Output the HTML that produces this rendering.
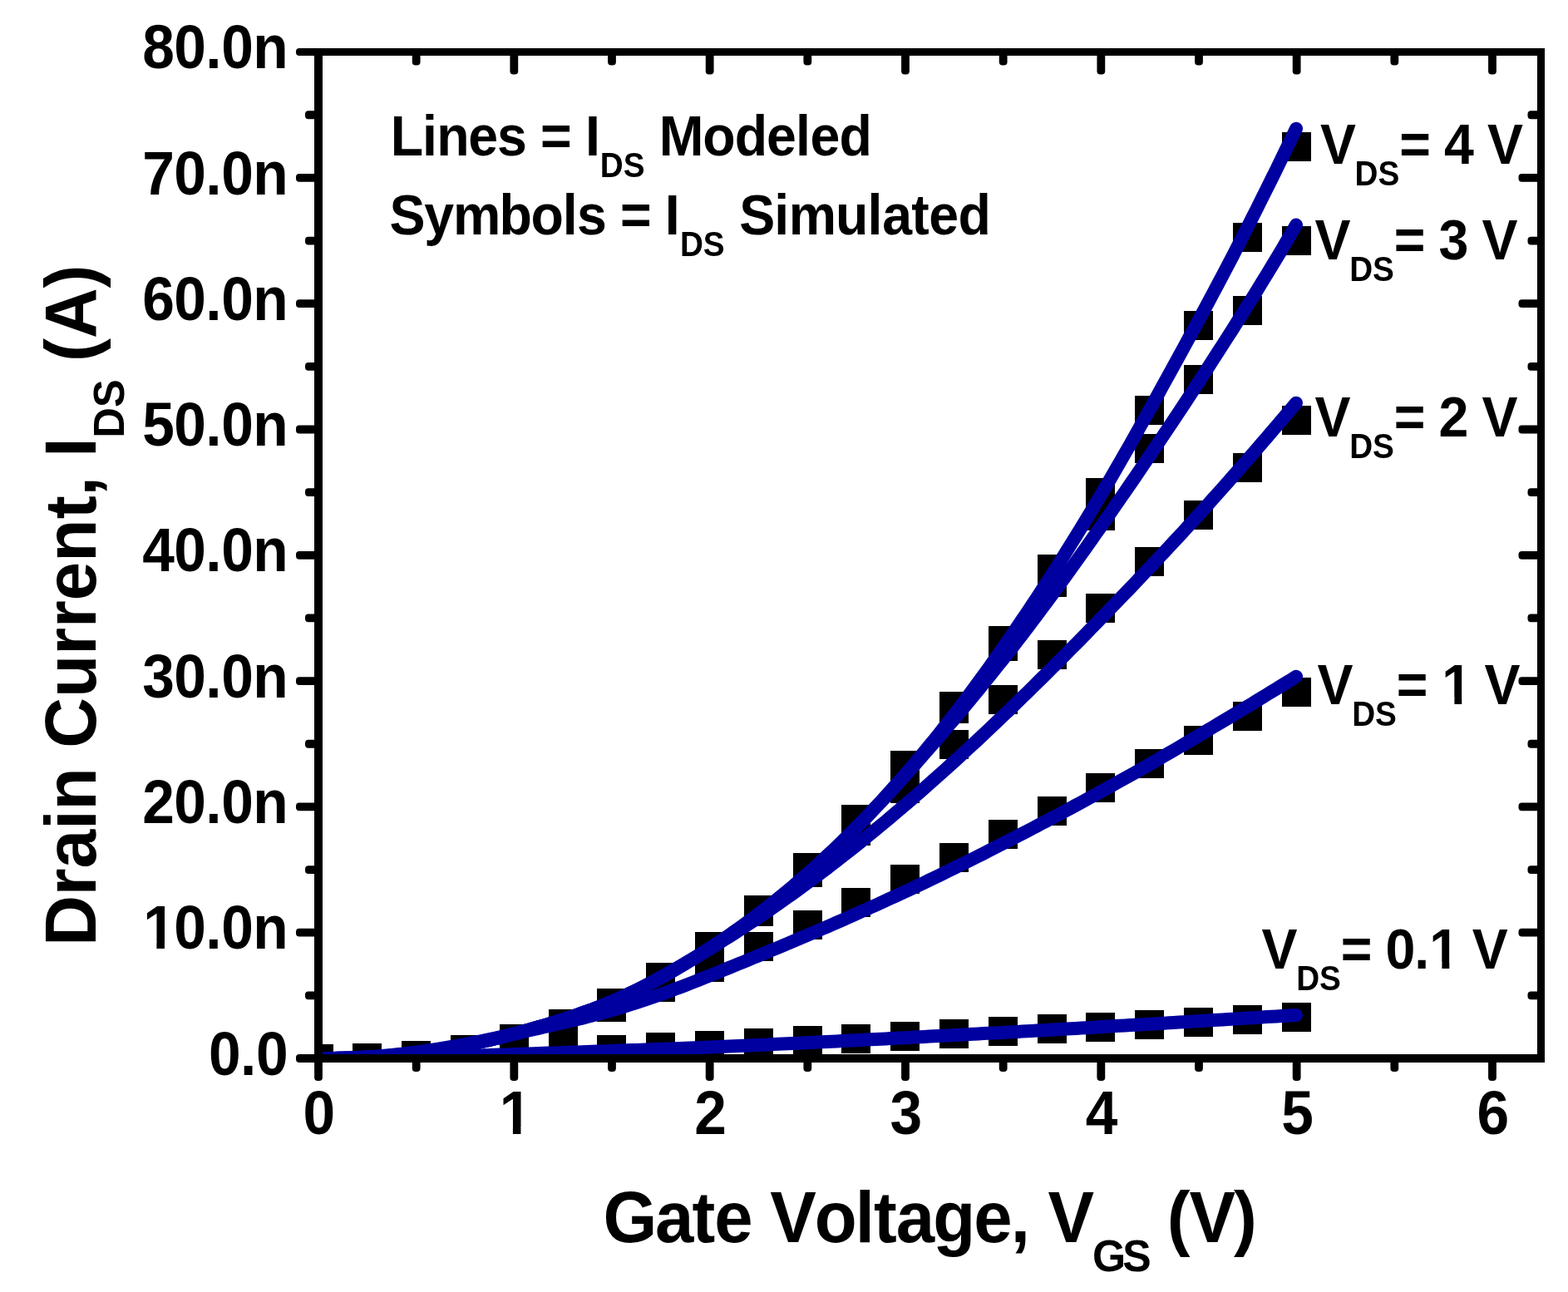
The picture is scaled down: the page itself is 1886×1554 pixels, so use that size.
<!DOCTYPE html>
<html lang="en"><head><meta charset="utf-8"><title>Drain Current vs Gate Voltage</title>
<style>html,body{margin:0;padding:0;background:#fff;}body{width:1886px;height:1554px;overflow:hidden;}svg{display:block;}text{font-family:"Liberation Sans",sans-serif;font-weight:bold;fill:#000;font-kerning:none;}</style></head><body>
<svg width="1886" height="1554" viewBox="0 0 1886 1554">
<rect x="0" y="0" width="1886" height="1554" fill="#fff"/>
<defs><clipPath id="plot"><rect x="383.0" y="62.5" width="1470.5" height="1210.5"/></clipPath></defs>
<g clip-path="url(#plot)">
<g fill="#000" shape-rendering="crispEdges">
<rect x="366" y="1256" width="35" height="35"/>
<rect x="424" y="1255" width="35" height="35"/>
<rect x="483" y="1254" width="35" height="35"/>
<rect x="542" y="1253" width="35" height="35"/>
<rect x="601" y="1251" width="35" height="35"/>
<rect x="660" y="1248" width="35" height="35"/>
<rect x="718" y="1245" width="35" height="35"/>
<rect x="777" y="1242" width="35" height="35"/>
<rect x="836" y="1240" width="35" height="35"/>
<rect x="895" y="1237" width="35" height="35"/>
<rect x="954" y="1234" width="35" height="35"/>
<rect x="1012" y="1232" width="35" height="35"/>
<rect x="1071" y="1229" width="35" height="35"/>
<rect x="1130" y="1226" width="35" height="35"/>
<rect x="1189" y="1223" width="35" height="35"/>
<rect x="1248" y="1220" width="35" height="35"/>
<rect x="1306" y="1218" width="35" height="35"/>
<rect x="1365" y="1215" width="35" height="35"/>
<rect x="1424" y="1212" width="35" height="35"/>
<rect x="1483" y="1209" width="35" height="35"/>
<rect x="1542" y="1206" width="35" height="35"/>
</g>
<g fill="#000" shape-rendering="crispEdges">
<rect x="366" y="1256" width="35" height="35"/>
<rect x="424" y="1255" width="35" height="35"/>
<rect x="483" y="1252" width="35" height="35"/>
<rect x="542" y="1246" width="35" height="35"/>
<rect x="601" y="1233" width="35" height="35"/>
<rect x="660" y="1216" width="35" height="35"/>
<rect x="718" y="1194" width="35" height="35"/>
<rect x="777" y="1170" width="35" height="35"/>
<rect x="836" y="1146" width="35" height="35"/>
<rect x="895" y="1121" width="35" height="35"/>
<rect x="954" y="1095" width="35" height="35"/>
<rect x="1012" y="1068" width="35" height="35"/>
<rect x="1071" y="1040" width="35" height="35"/>
<rect x="1130" y="1014" width="35" height="35"/>
<rect x="1189" y="986" width="35" height="35"/>
<rect x="1248" y="958" width="35" height="35"/>
<rect x="1306" y="930" width="35" height="35"/>
<rect x="1365" y="901" width="35" height="35"/>
<rect x="1424" y="873" width="35" height="35"/>
<rect x="1483" y="844" width="35" height="35"/>
<rect x="1542" y="815" width="35" height="35"/>
</g>
<g fill="#000" shape-rendering="crispEdges">
<rect x="366" y="1256" width="35" height="35"/>
<rect x="424" y="1255" width="35" height="35"/>
<rect x="483" y="1252" width="35" height="35"/>
<rect x="542" y="1245" width="35" height="35"/>
<rect x="601" y="1232" width="35" height="35"/>
<rect x="660" y="1214" width="35" height="35"/>
<rect x="718" y="1189" width="35" height="35"/>
<rect x="777" y="1158" width="35" height="35"/>
<rect x="836" y="1122" width="35" height="35"/>
<rect x="895" y="1079" width="35" height="35"/>
<rect x="954" y="1032" width="35" height="35"/>
<rect x="1012" y="982" width="35" height="35"/>
<rect x="1071" y="931" width="35" height="35"/>
<rect x="1130" y="878" width="35" height="35"/>
<rect x="1189" y="824" width="35" height="35"/>
<rect x="1248" y="770" width="35" height="35"/>
<rect x="1306" y="714" width="35" height="35"/>
<rect x="1365" y="658" width="35" height="35"/>
<rect x="1424" y="602" width="35" height="35"/>
<rect x="1483" y="545" width="35" height="35"/>
<rect x="1542" y="488" width="35" height="35"/>
</g>
<g fill="#000" shape-rendering="crispEdges">
<rect x="366" y="1256" width="35" height="35"/>
<rect x="424" y="1255" width="35" height="35"/>
<rect x="483" y="1252" width="35" height="35"/>
<rect x="542" y="1245" width="35" height="35"/>
<rect x="601" y="1232" width="35" height="35"/>
<rect x="660" y="1214" width="35" height="35"/>
<rect x="718" y="1189" width="35" height="35"/>
<rect x="777" y="1158" width="35" height="35"/>
<rect x="836" y="1121" width="35" height="35"/>
<rect x="895" y="1077" width="35" height="35"/>
<rect x="954" y="1026" width="35" height="35"/>
<rect x="1012" y="968" width="35" height="35"/>
<rect x="1071" y="904" width="35" height="35"/>
<rect x="1130" y="835" width="35" height="35"/>
<rect x="1189" y="760" width="35" height="35"/>
<rect x="1248" y="683" width="35" height="35"/>
<rect x="1306" y="603" width="35" height="35"/>
<rect x="1365" y="522" width="35" height="35"/>
<rect x="1424" y="439" width="35" height="35"/>
<rect x="1483" y="356" width="35" height="35"/>
<rect x="1542" y="272" width="35" height="35"/>
</g>
<g fill="#000" shape-rendering="crispEdges">
<rect x="366" y="1256" width="35" height="35"/>
<rect x="424" y="1255" width="35" height="35"/>
<rect x="483" y="1252" width="35" height="35"/>
<rect x="542" y="1245" width="35" height="35"/>
<rect x="601" y="1232" width="35" height="35"/>
<rect x="660" y="1214" width="35" height="35"/>
<rect x="718" y="1189" width="35" height="35"/>
<rect x="777" y="1158" width="35" height="35"/>
<rect x="836" y="1121" width="35" height="35"/>
<rect x="895" y="1077" width="35" height="35"/>
<rect x="954" y="1026" width="35" height="35"/>
<rect x="1012" y="968" width="35" height="35"/>
<rect x="1071" y="903" width="35" height="35"/>
<rect x="1130" y="832" width="35" height="35"/>
<rect x="1189" y="753" width="35" height="35"/>
<rect x="1248" y="667" width="35" height="35"/>
<rect x="1306" y="575" width="35" height="35"/>
<rect x="1365" y="476" width="35" height="35"/>
<rect x="1424" y="374" width="35" height="35"/>
<rect x="1483" y="268" width="35" height="35"/>
<rect x="1542" y="159" width="35" height="35"/>
</g>
<path d="M383.0,1273.0 L388.9,1273.0 L394.8,1273.0 L400.6,1273.0 L406.5,1273.0 L412.4,1272.9 L418.3,1272.9 L424.2,1272.9 L430.0,1272.8 L435.9,1272.8 L441.8,1272.7 L447.7,1272.6 L453.6,1272.5 L459.4,1272.5 L465.3,1272.4 L471.2,1272.3 L477.1,1272.2 L483.0,1272.0 L488.8,1271.9 L494.7,1271.8 L500.6,1271.7 L506.5,1271.5 L512.4,1271.4 L518.2,1271.2 L524.1,1271.0 L530.0,1270.9 L535.9,1270.7 L541.8,1270.5 L547.6,1270.4 L553.5,1270.2 L559.4,1270.0 L565.3,1269.8 L571.2,1269.6 L577.0,1269.4 L582.9,1269.2 L588.8,1269.0 L594.7,1268.8 L600.6,1268.6 L606.4,1268.4 L612.3,1268.2 L618.2,1268.0 L624.1,1267.8 L630.0,1267.6 L635.8,1267.4 L641.7,1267.2 L647.6,1267.0 L653.5,1266.8 L659.4,1266.6 L665.2,1266.4 L671.1,1266.2 L677.0,1266.0 L682.9,1265.8 L688.8,1265.6 L694.6,1265.4 L700.5,1265.2 L706.4,1265.0 L712.3,1264.8 L718.2,1264.6 L724.0,1264.4 L729.9,1264.2 L735.8,1264.0 L741.7,1263.8 L747.6,1263.5 L753.4,1263.3 L759.3,1263.1 L765.2,1262.9 L771.1,1262.7 L777.0,1262.5 L782.8,1262.3 L788.7,1262.1 L794.6,1261.9 L800.5,1261.6 L806.4,1261.4 L812.2,1261.2 L818.1,1261.0 L824.0,1260.7 L829.9,1260.5 L835.8,1260.3 L841.6,1260.0 L847.5,1259.8 L853.4,1259.5 L859.3,1259.3 L865.2,1259.0 L871.0,1258.8 L876.9,1258.5 L882.8,1258.2 L888.7,1258.0 L894.6,1257.7 L900.4,1257.5 L906.3,1257.2 L912.2,1256.9 L918.1,1256.7 L924.0,1256.4 L929.8,1256.1 L935.7,1255.8 L941.6,1255.6 L947.5,1255.3 L953.4,1255.0 L959.2,1254.7 L965.1,1254.4 L971.0,1254.1 L976.9,1253.9 L982.8,1253.6 L988.6,1253.3 L994.5,1253.0 L1000.4,1252.7 L1006.3,1252.4 L1012.2,1252.1 L1018.0,1251.8 L1023.9,1251.5 L1029.8,1251.2 L1035.7,1250.9 L1041.6,1250.6 L1047.4,1250.3 L1053.3,1250.0 L1059.2,1249.7 L1065.1,1249.4 L1071.0,1249.1 L1076.8,1248.8 L1082.7,1248.5 L1088.6,1248.2 L1094.5,1247.9 L1100.4,1247.6 L1106.2,1247.3 L1112.1,1246.9 L1118.0,1246.6 L1123.9,1246.3 L1129.8,1246.0 L1135.6,1245.7 L1141.5,1245.4 L1147.4,1245.1 L1153.3,1244.7 L1159.2,1244.4 L1165.0,1244.1 L1170.9,1243.8 L1176.8,1243.5 L1182.7,1243.1 L1188.6,1242.8 L1194.4,1242.5 L1200.3,1242.2 L1206.2,1241.9 L1212.1,1241.5 L1218.0,1241.2 L1223.8,1240.9 L1229.7,1240.5 L1235.6,1240.2 L1241.5,1239.9 L1247.4,1239.6 L1253.2,1239.2 L1259.1,1238.9 L1265.0,1238.6 L1270.9,1238.2 L1276.8,1237.9 L1282.6,1237.6 L1288.5,1237.2 L1294.4,1236.9 L1300.3,1236.5 L1306.2,1236.2 L1312.0,1235.9 L1317.9,1235.5 L1323.8,1235.2 L1329.7,1234.8 L1335.6,1234.5 L1341.4,1234.1 L1347.3,1233.8 L1353.2,1233.5 L1359.1,1233.1 L1365.0,1232.8 L1370.8,1232.4 L1376.7,1232.1 L1382.6,1231.7 L1388.5,1231.4 L1394.4,1231.0 L1400.2,1230.7 L1406.1,1230.3 L1412.0,1229.9 L1417.9,1229.6 L1423.8,1229.2 L1429.6,1228.9 L1435.5,1228.5 L1441.4,1228.2 L1447.3,1227.8 L1453.2,1227.5 L1459.0,1227.1 L1464.9,1226.7 L1470.8,1226.4 L1476.7,1226.0 L1482.6,1225.7 L1488.4,1225.3 L1494.3,1224.9 L1500.2,1224.6 L1506.1,1224.2 L1512.0,1223.9 L1517.8,1223.5 L1523.7,1223.1 L1529.6,1222.8 L1535.5,1222.4 L1541.4,1222.0 L1547.2,1221.7 L1553.1,1221.3 L1559.0,1221.0" fill="none" stroke="#0000a0" stroke-width="16.0" stroke-linecap="round" stroke-linejoin="round"/>
<path d="M383.0,1273.0 L388.9,1273.0 L394.8,1273.0 L400.6,1272.9 L406.5,1272.8 L412.4,1272.6 L418.3,1272.5 L424.2,1272.2 L430.0,1272.0 L435.9,1271.6 L441.8,1271.3 L447.7,1270.9 L453.6,1270.5 L459.4,1270.0 L465.3,1269.5 L471.2,1268.9 L477.1,1268.3 L483.0,1267.7 L488.8,1267.0 L494.7,1266.2 L500.6,1265.5 L506.5,1264.7 L512.4,1263.8 L518.2,1263.0 L524.1,1262.1 L530.0,1261.1 L535.9,1260.1 L541.8,1259.1 L547.6,1258.1 L553.5,1257.0 L559.4,1255.9 L565.3,1254.8 L571.2,1253.6 L577.0,1252.5 L582.9,1251.3 L588.8,1250.0 L594.7,1248.8 L600.6,1247.5 L606.4,1246.2 L612.3,1244.9 L618.2,1243.5 L624.1,1242.2 L630.0,1240.9 L635.8,1239.5 L641.7,1238.2 L647.6,1236.9 L653.5,1235.5 L659.4,1234.2 L665.2,1232.9 L671.1,1231.5 L677.0,1230.2 L682.9,1228.8 L688.8,1227.4 L694.6,1226.0 L700.5,1224.6 L706.4,1223.1 L712.3,1221.6 L718.2,1220.1 L724.0,1218.5 L729.9,1216.9 L735.8,1215.2 L741.7,1213.5 L747.6,1211.7 L753.4,1209.9 L759.3,1208.0 L765.2,1206.1 L771.1,1204.2 L777.0,1202.2 L782.8,1200.2 L788.7,1198.2 L794.6,1196.1 L800.5,1194.0 L806.4,1191.8 L812.2,1189.6 L818.1,1187.4 L824.0,1185.2 L829.9,1182.9 L835.8,1180.6 L841.6,1178.3 L847.5,1175.9 L853.4,1173.6 L859.3,1171.2 L865.2,1168.8 L871.0,1166.4 L876.9,1164.0 L882.8,1161.6 L888.7,1159.2 L894.6,1156.8 L900.4,1154.3 L906.3,1151.9 L912.2,1149.5 L918.1,1147.1 L924.0,1144.7 L929.8,1142.2 L935.7,1139.8 L941.6,1137.3 L947.5,1134.9 L953.4,1132.4 L959.2,1129.9 L965.1,1127.4 L971.0,1124.9 L976.9,1122.4 L982.8,1119.9 L988.6,1117.3 L994.5,1114.8 L1000.4,1112.2 L1006.3,1109.6 L1012.2,1107.1 L1018.0,1104.5 L1023.9,1101.9 L1029.8,1099.3 L1035.7,1096.6 L1041.6,1094.0 L1047.4,1091.3 L1053.3,1088.7 L1059.2,1086.0 L1065.1,1083.3 L1071.0,1080.6 L1076.8,1077.9 L1082.7,1075.2 L1088.6,1072.5 L1094.5,1069.7 L1100.4,1066.9 L1106.2,1064.2 L1112.1,1061.4 L1118.0,1058.5 L1123.9,1055.7 L1129.8,1052.9 L1135.6,1050.0 L1141.5,1047.1 L1147.4,1044.2 L1153.3,1041.3 L1159.2,1038.4 L1165.0,1035.5 L1170.9,1032.6 L1176.8,1029.6 L1182.7,1026.7 L1188.6,1023.7 L1194.4,1020.7 L1200.3,1017.7 L1206.2,1014.7 L1212.1,1011.7 L1218.0,1008.7 L1223.8,1005.7 L1229.7,1002.6 L1235.6,999.6 L1241.5,996.5 L1247.4,993.4 L1253.2,990.3 L1259.1,987.3 L1265.0,984.1 L1270.9,981.0 L1276.8,977.9 L1282.6,974.7 L1288.5,971.6 L1294.4,968.4 L1300.3,965.2 L1306.2,962.0 L1312.0,958.8 L1317.9,955.6 L1323.8,952.4 L1329.7,949.1 L1335.6,945.9 L1341.4,942.6 L1347.3,939.3 L1353.2,936.0 L1359.1,932.7 L1365.0,929.4 L1370.8,926.1 L1376.7,922.7 L1382.6,919.4 L1388.5,916.0 L1394.4,912.6 L1400.2,909.2 L1406.1,905.8 L1412.0,902.3 L1417.9,898.9 L1423.8,895.4 L1429.6,892.0 L1435.5,888.5 L1441.4,885.0 L1447.3,881.5 L1453.2,878.0 L1459.0,874.5 L1464.9,871.0 L1470.8,867.5 L1476.7,864.0 L1482.6,860.5 L1488.4,856.9 L1494.3,853.4 L1500.2,849.8 L1506.1,846.3 L1512.0,842.7 L1517.8,839.1 L1523.7,835.5 L1529.6,831.9 L1535.5,828.3 L1541.4,824.7 L1547.2,821.1 L1553.1,817.5 L1559.0,813.8" fill="none" stroke="#0000a0" stroke-width="16.0" stroke-linecap="round" stroke-linejoin="round"/>
<path d="M383.0,1273.0 L388.9,1273.0 L394.8,1273.0 L400.6,1272.9 L406.5,1272.8 L412.4,1272.7 L418.3,1272.6 L424.2,1272.4 L430.0,1272.2 L435.9,1271.9 L441.8,1271.6 L447.7,1271.3 L453.6,1270.9 L459.4,1270.5 L465.3,1270.1 L471.2,1269.6 L477.1,1269.0 L483.0,1268.5 L488.8,1267.8 L494.7,1267.2 L500.6,1266.5 L506.5,1265.8 L512.4,1265.0 L518.2,1264.1 L524.1,1263.3 L530.0,1262.4 L535.9,1261.4 L541.8,1260.4 L547.6,1259.4 L553.5,1258.3 L559.4,1257.2 L565.3,1256.0 L571.2,1254.8 L577.0,1253.5 L582.9,1252.2 L588.8,1250.9 L594.7,1249.5 L600.6,1248.1 L606.4,1246.6 L612.3,1245.1 L618.2,1243.5 L624.1,1242.0 L630.0,1240.3 L635.8,1238.7 L641.7,1237.0 L647.6,1235.3 L653.5,1233.6 L659.4,1231.9 L665.2,1230.1 L671.1,1228.2 L677.0,1226.4 L682.9,1224.5 L688.8,1222.5 L694.6,1220.5 L700.5,1218.4 L706.4,1216.3 L712.3,1214.2 L718.2,1211.9 L724.0,1209.6 L729.9,1207.2 L735.8,1204.8 L741.7,1202.2 L747.6,1199.6 L753.4,1196.8 L759.3,1194.0 L765.2,1191.1 L771.1,1188.2 L777.0,1185.1 L782.8,1182.0 L788.7,1178.8 L794.6,1175.6 L800.5,1172.3 L806.4,1169.0 L812.2,1165.6 L818.1,1162.2 L824.0,1158.7 L829.9,1155.3 L835.8,1151.8 L841.6,1148.3 L847.5,1144.8 L853.4,1141.2 L859.3,1137.6 L865.2,1134.0 L871.0,1130.3 L876.9,1126.6 L882.8,1122.9 L888.7,1119.1 L894.6,1115.3 L900.4,1111.4 L906.3,1107.5 L912.2,1103.6 L918.1,1099.6 L924.0,1095.6 L929.8,1091.5 L935.7,1087.4 L941.6,1083.3 L947.5,1079.1 L953.4,1074.9 L959.2,1070.7 L965.1,1066.4 L971.0,1062.1 L976.9,1057.8 L982.8,1053.4 L988.6,1048.9 L994.5,1044.5 L1000.4,1040.0 L1006.3,1035.4 L1012.2,1030.8 L1018.0,1026.2 L1023.9,1021.6 L1029.8,1016.9 L1035.7,1012.2 L1041.6,1007.4 L1047.4,1002.6 L1053.3,997.8 L1059.2,992.9 L1065.1,988.1 L1071.0,983.1 L1076.8,978.2 L1082.7,973.2 L1088.6,968.2 L1094.5,963.1 L1100.4,958.0 L1106.2,952.9 L1112.1,947.7 L1118.0,942.5 L1123.9,937.3 L1129.8,932.1 L1135.6,926.8 L1141.5,921.5 L1147.4,916.2 L1153.3,910.8 L1159.2,905.4 L1165.0,900.0 L1170.9,894.6 L1176.8,889.1 L1182.7,883.6 L1188.6,878.0 L1194.4,872.5 L1200.3,866.9 L1206.2,861.3 L1212.1,855.7 L1218.0,850.0 L1223.8,844.3 L1229.7,838.6 L1235.6,832.9 L1241.5,827.1 L1247.4,821.3 L1253.2,815.5 L1259.1,809.7 L1265.0,803.9 L1270.9,798.0 L1276.8,792.1 L1282.6,786.2 L1288.5,780.2 L1294.4,774.3 L1300.3,768.3 L1306.2,762.3 L1312.0,756.3 L1317.9,750.2 L1323.8,744.2 L1329.7,738.1 L1335.6,732.0 L1341.4,725.9 L1347.3,719.8 L1353.2,713.7 L1359.1,707.6 L1365.0,701.4 L1370.8,695.3 L1376.7,689.1 L1382.6,682.9 L1388.5,676.7 L1394.4,670.4 L1400.2,664.2 L1406.1,657.9 L1412.0,651.5 L1417.9,645.2 L1423.8,638.8 L1429.6,632.4 L1435.5,626.0 L1441.4,619.5 L1447.3,613.0 L1453.2,606.5 L1459.0,599.9 L1464.9,593.4 L1470.8,586.7 L1476.7,580.1 L1482.6,573.4 L1488.4,566.7 L1494.3,560.0 L1500.2,553.3 L1506.1,546.6 L1512.0,539.8 L1517.8,533.0 L1523.7,526.2 L1529.6,519.3 L1535.5,512.4 L1541.4,505.5 L1547.2,498.6 L1553.1,491.7 L1559.0,484.7" fill="none" stroke="#0000a0" stroke-width="16.0" stroke-linecap="round" stroke-linejoin="round"/>
<path d="M383.0,1273.0 L388.9,1273.0 L394.8,1273.0 L400.6,1272.9 L406.5,1272.8 L412.4,1272.7 L418.3,1272.6 L424.2,1272.4 L430.0,1272.2 L435.9,1271.9 L441.8,1271.6 L447.7,1271.3 L453.6,1270.9 L459.4,1270.5 L465.3,1270.1 L471.2,1269.6 L477.1,1269.0 L483.0,1268.5 L488.8,1267.8 L494.7,1267.2 L500.6,1266.5 L506.5,1265.8 L512.4,1265.0 L518.2,1264.1 L524.1,1263.3 L530.0,1262.4 L535.9,1261.4 L541.8,1260.4 L547.6,1259.4 L553.5,1258.3 L559.4,1257.2 L565.3,1256.0 L571.2,1254.8 L577.0,1253.5 L582.9,1252.2 L588.8,1250.9 L594.7,1249.5 L600.6,1248.1 L606.4,1246.6 L612.3,1245.1 L618.2,1243.5 L624.1,1242.0 L630.0,1240.3 L635.8,1238.7 L641.7,1237.0 L647.6,1235.3 L653.5,1233.6 L659.4,1231.9 L665.2,1230.1 L671.1,1228.2 L677.0,1226.4 L682.9,1224.5 L688.8,1222.5 L694.6,1220.5 L700.5,1218.4 L706.4,1216.3 L712.3,1214.2 L718.2,1211.9 L724.0,1209.6 L729.9,1207.2 L735.8,1204.8 L741.7,1202.2 L747.6,1199.6 L753.4,1196.9 L759.3,1194.1 L765.2,1191.3 L771.1,1188.4 L777.0,1185.4 L782.8,1182.3 L788.7,1179.2 L794.6,1176.0 L800.5,1172.7 L806.4,1169.4 L812.2,1166.0 L818.1,1162.6 L824.0,1159.1 L829.9,1155.5 L835.8,1151.9 L841.6,1148.2 L847.5,1144.5 L853.4,1140.7 L859.3,1136.9 L865.2,1133.0 L871.0,1129.0 L876.9,1125.0 L882.8,1120.9 L888.7,1116.7 L894.6,1112.5 L900.4,1108.2 L906.3,1103.9 L912.2,1099.4 L918.1,1094.9 L924.0,1090.4 L929.8,1085.8 L935.7,1081.1 L941.6,1076.3 L947.5,1071.5 L953.4,1066.6 L959.2,1061.6 L965.1,1056.5 L971.0,1051.4 L976.9,1046.2 L982.8,1040.9 L988.6,1035.6 L994.5,1030.1 L1000.4,1024.6 L1006.3,1019.0 L1012.2,1013.3 L1018.0,1007.5 L1023.9,1001.6 L1029.8,995.7 L1035.7,989.7 L1041.6,983.6 L1047.4,977.5 L1053.3,971.3 L1059.2,965.0 L1065.1,958.7 L1071.0,952.3 L1076.8,945.8 L1082.7,939.3 L1088.6,932.8 L1094.5,926.2 L1100.4,919.6 L1106.2,912.9 L1112.1,906.2 L1118.0,899.5 L1123.9,892.7 L1129.8,885.9 L1135.6,879.0 L1141.5,872.1 L1147.4,865.2 L1153.3,858.2 L1159.2,851.2 L1165.0,844.1 L1170.9,836.9 L1176.8,829.8 L1182.7,822.5 L1188.6,815.3 L1194.4,808.0 L1200.3,800.6 L1206.2,793.2 L1212.1,785.7 L1218.0,778.2 L1223.8,770.6 L1229.7,763.0 L1235.6,755.3 L1241.5,747.5 L1247.4,739.7 L1253.2,731.8 L1259.1,723.9 L1265.0,716.0 L1270.9,708.0 L1276.8,699.9 L1282.6,691.8 L1288.5,683.6 L1294.4,675.4 L1300.3,667.2 L1306.2,658.9 L1312.0,650.6 L1317.9,642.2 L1323.8,633.8 L1329.7,625.4 L1335.6,617.0 L1341.4,608.5 L1347.3,600.0 L1353.2,591.5 L1359.1,582.9 L1365.0,574.4 L1370.8,565.8 L1376.7,557.1 L1382.6,548.5 L1388.5,539.8 L1394.4,531.1 L1400.2,522.4 L1406.1,513.6 L1412.0,504.8 L1417.9,495.9 L1423.8,487.0 L1429.6,478.1 L1435.5,469.1 L1441.4,460.1 L1447.3,451.0 L1453.2,441.9 L1459.0,432.8 L1464.9,423.6 L1470.8,414.5 L1476.7,405.3 L1482.6,396.1 L1488.4,386.8 L1494.3,377.5 L1500.2,368.1 L1506.1,358.7 L1512.0,349.3 L1517.8,339.7 L1523.7,330.1 L1529.6,320.4 L1535.5,310.6 L1541.4,300.8 L1547.2,290.8 L1553.1,280.8 L1559.0,270.6" fill="none" stroke="#0000a0" stroke-width="16.0" stroke-linecap="round" stroke-linejoin="round"/>
<path d="M383.0,1273.0 L388.9,1273.0 L394.8,1273.0 L400.6,1272.9 L406.5,1272.8 L412.4,1272.7 L418.3,1272.6 L424.2,1272.4 L430.0,1272.2 L435.9,1271.9 L441.8,1271.6 L447.7,1271.3 L453.6,1270.9 L459.4,1270.5 L465.3,1270.1 L471.2,1269.6 L477.1,1269.0 L483.0,1268.5 L488.8,1267.8 L494.7,1267.2 L500.6,1266.5 L506.5,1265.8 L512.4,1265.0 L518.2,1264.1 L524.1,1263.3 L530.0,1262.4 L535.9,1261.4 L541.8,1260.4 L547.6,1259.4 L553.5,1258.3 L559.4,1257.2 L565.3,1256.0 L571.2,1254.8 L577.0,1253.5 L582.9,1252.2 L588.8,1250.9 L594.7,1249.5 L600.6,1248.1 L606.4,1246.6 L612.3,1245.1 L618.2,1243.5 L624.1,1242.0 L630.0,1240.3 L635.8,1238.7 L641.7,1237.0 L647.6,1235.3 L653.5,1233.6 L659.4,1231.9 L665.2,1230.1 L671.1,1228.2 L677.0,1226.4 L682.9,1224.5 L688.8,1222.5 L694.6,1220.5 L700.5,1218.4 L706.4,1216.3 L712.3,1214.2 L718.2,1211.9 L724.0,1209.6 L729.9,1207.2 L735.8,1204.8 L741.7,1202.2 L747.6,1199.6 L753.4,1196.9 L759.3,1194.1 L765.2,1191.3 L771.1,1188.4 L777.0,1185.4 L782.8,1182.3 L788.7,1179.2 L794.6,1176.0 L800.5,1172.7 L806.4,1169.4 L812.2,1166.0 L818.1,1162.6 L824.0,1159.1 L829.9,1155.5 L835.8,1151.9 L841.6,1148.2 L847.5,1144.5 L853.4,1140.7 L859.3,1136.9 L865.2,1133.0 L871.0,1129.0 L876.9,1125.0 L882.8,1120.9 L888.7,1116.7 L894.6,1112.5 L900.4,1108.2 L906.3,1103.8 L912.2,1099.4 L918.1,1094.9 L924.0,1090.3 L929.8,1085.7 L935.7,1081.0 L941.6,1076.2 L947.5,1071.3 L953.4,1066.4 L959.2,1061.4 L965.1,1056.3 L971.0,1051.1 L976.9,1045.9 L982.8,1040.6 L988.6,1035.2 L994.5,1029.7 L1000.4,1024.2 L1006.3,1018.6 L1012.2,1012.9 L1018.0,1007.1 L1023.9,1001.2 L1029.8,995.3 L1035.7,989.3 L1041.6,983.2 L1047.4,977.0 L1053.3,970.7 L1059.2,964.4 L1065.1,958.0 L1071.0,951.5 L1076.8,944.9 L1082.7,938.3 L1088.6,931.6 L1094.5,924.7 L1100.4,917.9 L1106.2,910.9 L1112.1,903.8 L1118.0,896.7 L1123.9,889.5 L1129.8,882.2 L1135.6,874.8 L1141.5,867.3 L1147.4,859.7 L1153.3,852.1 L1159.2,844.3 L1165.0,836.5 L1170.9,828.6 L1176.8,820.6 L1182.7,812.5 L1188.6,804.3 L1194.4,796.1 L1200.3,787.8 L1206.2,779.4 L1212.1,770.9 L1218.0,762.4 L1223.8,753.8 L1229.7,745.1 L1235.6,736.4 L1241.5,727.5 L1247.4,718.6 L1253.2,709.6 L1259.1,700.6 L1265.0,691.4 L1270.9,682.2 L1276.8,672.9 L1282.6,663.5 L1288.5,654.0 L1294.4,644.5 L1300.3,634.9 L1306.2,625.3 L1312.0,615.5 L1317.9,605.7 L1323.8,595.9 L1329.7,585.9 L1335.6,575.9 L1341.4,565.7 L1347.3,555.5 L1353.2,545.2 L1359.1,534.9 L1365.0,524.5 L1370.8,514.0 L1376.7,503.5 L1382.6,493.0 L1388.5,482.4 L1394.4,471.7 L1400.2,461.0 L1406.1,450.4 L1412.0,439.7 L1417.9,428.9 L1423.8,418.2 L1429.6,407.4 L1435.5,396.6 L1441.4,385.8 L1447.3,374.9 L1453.2,363.9 L1459.0,352.9 L1464.9,341.9 L1470.8,330.7 L1476.7,319.5 L1482.6,308.2 L1488.4,296.8 L1494.3,285.3 L1500.2,273.8 L1506.1,262.2 L1512.0,250.5 L1517.8,238.8 L1523.7,227.0 L1529.6,215.1 L1535.5,203.2 L1541.4,191.1 L1547.2,179.1 L1553.1,166.9 L1559.0,154.7" fill="none" stroke="#0000a0" stroke-width="16.0" stroke-linecap="round" stroke-linejoin="round"/>
</g>
<g fill="#000" shape-rendering="crispEdges">
<rect x="378" y="58" width="10" height="1220"/>
<rect x="1849" y="58" width="9" height="1220"/>
<rect x="378" y="58" width="1480" height="9"/>
<rect x="378" y="1268" width="1480" height="10"/>
</g>
<g fill="#000">
<rect x="378.10" y="1273.00" width="9.80" height="27.00" rx="4" ry="4"/>
<rect x="495.77" y="1273.00" width="9.80" height="16.00" rx="4" ry="4"/>
<rect x="495.77" y="62.50" width="9.80" height="16.00" rx="4" ry="4"/>
<rect x="613.43" y="1273.00" width="9.80" height="27.00" rx="4" ry="4"/>
<rect x="613.43" y="62.50" width="9.80" height="27.00" rx="4" ry="4"/>
<rect x="731.10" y="1273.00" width="9.80" height="16.00" rx="4" ry="4"/>
<rect x="731.10" y="62.50" width="9.80" height="16.00" rx="4" ry="4"/>
<rect x="848.76" y="1273.00" width="9.80" height="27.00" rx="4" ry="4"/>
<rect x="848.76" y="62.50" width="9.80" height="27.00" rx="4" ry="4"/>
<rect x="966.43" y="1273.00" width="9.80" height="16.00" rx="4" ry="4"/>
<rect x="966.43" y="62.50" width="9.80" height="16.00" rx="4" ry="4"/>
<rect x="1084.09" y="1273.00" width="9.80" height="27.00" rx="4" ry="4"/>
<rect x="1084.09" y="62.50" width="9.80" height="27.00" rx="4" ry="4"/>
<rect x="1201.76" y="1273.00" width="9.80" height="16.00" rx="4" ry="4"/>
<rect x="1201.76" y="62.50" width="9.80" height="16.00" rx="4" ry="4"/>
<rect x="1319.42" y="1273.00" width="9.80" height="27.00" rx="4" ry="4"/>
<rect x="1319.42" y="62.50" width="9.80" height="27.00" rx="4" ry="4"/>
<rect x="1437.09" y="1273.00" width="9.80" height="16.00" rx="4" ry="4"/>
<rect x="1437.09" y="62.50" width="9.80" height="16.00" rx="4" ry="4"/>
<rect x="1554.75" y="1273.00" width="9.80" height="27.00" rx="4" ry="4"/>
<rect x="1554.75" y="62.50" width="9.80" height="27.00" rx="4" ry="4"/>
<rect x="1672.41" y="1273.00" width="9.80" height="16.00" rx="4" ry="4"/>
<rect x="1672.41" y="62.50" width="9.80" height="16.00" rx="4" ry="4"/>
<rect x="1790.08" y="1273.00" width="9.80" height="27.00" rx="4" ry="4"/>
<rect x="1790.08" y="62.50" width="9.80" height="27.00" rx="4" ry="4"/>
<rect x="356.00" y="1268.00" width="27.00" height="10.00" rx="4" ry="4"/>
<rect x="367.00" y="1192.45" width="16.00" height="9.80" rx="4" ry="4"/>
<rect x="1837.50" y="1192.45" width="16.00" height="9.80" rx="4" ry="4"/>
<rect x="356.00" y="1116.80" width="27.00" height="9.80" rx="4" ry="4"/>
<rect x="1826.50" y="1116.80" width="27.00" height="9.80" rx="4" ry="4"/>
<rect x="367.00" y="1041.15" width="16.00" height="9.80" rx="4" ry="4"/>
<rect x="1837.50" y="1041.15" width="16.00" height="9.80" rx="4" ry="4"/>
<rect x="356.00" y="965.50" width="27.00" height="9.80" rx="4" ry="4"/>
<rect x="1826.50" y="965.50" width="27.00" height="9.80" rx="4" ry="4"/>
<rect x="367.00" y="889.85" width="16.00" height="9.80" rx="4" ry="4"/>
<rect x="1837.50" y="889.85" width="16.00" height="9.80" rx="4" ry="4"/>
<rect x="356.00" y="814.20" width="27.00" height="9.80" rx="4" ry="4"/>
<rect x="1826.50" y="814.20" width="27.00" height="9.80" rx="4" ry="4"/>
<rect x="367.00" y="738.55" width="16.00" height="9.80" rx="4" ry="4"/>
<rect x="1837.50" y="738.55" width="16.00" height="9.80" rx="4" ry="4"/>
<rect x="356.00" y="662.90" width="27.00" height="9.80" rx="4" ry="4"/>
<rect x="1826.50" y="662.90" width="27.00" height="9.80" rx="4" ry="4"/>
<rect x="367.00" y="587.25" width="16.00" height="9.80" rx="4" ry="4"/>
<rect x="1837.50" y="587.25" width="16.00" height="9.80" rx="4" ry="4"/>
<rect x="356.00" y="511.60" width="27.00" height="9.80" rx="4" ry="4"/>
<rect x="1826.50" y="511.60" width="27.00" height="9.80" rx="4" ry="4"/>
<rect x="367.00" y="435.95" width="16.00" height="9.80" rx="4" ry="4"/>
<rect x="1837.50" y="435.95" width="16.00" height="9.80" rx="4" ry="4"/>
<rect x="356.00" y="360.30" width="27.00" height="9.80" rx="4" ry="4"/>
<rect x="1826.50" y="360.30" width="27.00" height="9.80" rx="4" ry="4"/>
<rect x="367.00" y="284.65" width="16.00" height="9.80" rx="4" ry="4"/>
<rect x="1837.50" y="284.65" width="16.00" height="9.80" rx="4" ry="4"/>
<rect x="356.00" y="209.00" width="27.00" height="9.80" rx="4" ry="4"/>
<rect x="1826.50" y="209.00" width="27.00" height="9.80" rx="4" ry="4"/>
<rect x="367.00" y="133.35" width="16.00" height="9.80" rx="4" ry="4"/>
<rect x="1837.50" y="133.35" width="16.00" height="9.80" rx="4" ry="4"/>
<rect x="356.00" y="58.00" width="27.00" height="9.00" rx="4" ry="4"/>
</g>
<text transform="translate(346.00,1292.60) scale(1,1.0570)" font-size="69.50" xml:space="preserve"><tspan x="-94.95 -56.96 -37.99" y="0">0.0</tspan></text>
<text transform="translate(346.00,1141.30) scale(1,1.0570)" font-size="69.50" xml:space="preserve" clip-path="url(#k0)"><tspan x="-173.82 -136.67 -98.68 -79.71 -41.72" y="0">10.0n</tspan></text>
<text transform="translate(346.00,990.00) scale(1,1.0570)" font-size="69.50" xml:space="preserve"><tspan x="-174.65 -136.67 -98.68 -79.71 -41.72" y="0">20.0n</tspan></text>
<text transform="translate(346.00,838.70) scale(1,1.0570)" font-size="69.50" xml:space="preserve"><tspan x="-174.65 -136.67 -98.68 -79.71 -41.72" y="0">30.0n</tspan></text>
<text transform="translate(346.00,687.40) scale(1,1.0570)" font-size="69.50" xml:space="preserve"><tspan x="-174.65 -136.67 -98.68 -79.71 -41.72" y="0">40.0n</tspan></text>
<text transform="translate(346.00,536.10) scale(1,1.0570)" font-size="69.50" xml:space="preserve"><tspan x="-174.65 -136.67 -98.68 -79.71 -41.72" y="0">50.0n</tspan></text>
<text transform="translate(346.00,384.80) scale(1,1.0570)" font-size="69.50" xml:space="preserve"><tspan x="-174.65 -136.67 -98.68 -79.71 -41.72" y="0">60.0n</tspan></text>
<text transform="translate(346.00,233.50) scale(1,1.0570)" font-size="69.50" xml:space="preserve"><tspan x="-174.65 -136.67 -98.68 -79.71 -41.72" y="0">70.0n</tspan></text>
<text transform="translate(346.00,82.20) scale(1,1.0570)" font-size="69.50" xml:space="preserve"><tspan x="-174.65 -136.67 -98.68 -79.71 -41.72" y="0">80.0n</tspan></text>
<text transform="translate(383.50,1364.30) scale(1,1.0570)" font-size="69.50" xml:space="preserve"><tspan x="-18.99" y="0">0</tspan></text>
<text transform="translate(618.83,1364.30) scale(1,1.0570)" font-size="69.50" xml:space="preserve" clip-path="url(#k1)"><tspan x="-18.16" y="0">1</tspan></text>
<text transform="translate(854.16,1364.30) scale(1,1.0570)" font-size="69.50" xml:space="preserve"><tspan x="-18.99" y="0">2</tspan></text>
<text transform="translate(1089.49,1364.30) scale(1,1.0570)" font-size="69.50" xml:space="preserve"><tspan x="-18.99" y="0">3</tspan></text>
<text transform="translate(1324.82,1364.30) scale(1,1.0570)" font-size="69.50" xml:space="preserve"><tspan x="-18.99" y="0">4</tspan></text>
<text transform="translate(1560.15,1364.30) scale(1,1.0570)" font-size="69.50" xml:space="preserve"><tspan x="-18.99" y="0">5</tspan></text>
<text transform="translate(1795.48,1364.30) scale(1,1.0570)" font-size="69.50" xml:space="preserve"><tspan x="-18.99" y="0">6</tspan></text>
<text transform="translate(114.90,1137.80) rotate(-90) scale(1,1.0400)" font-size="84.00" xml:space="preserve"><tspan x="0.00 60.66 93.35 140.07 163.41 214.72 238.05 298.72 350.03 382.72 415.41 462.12 513.43 541.41 564.74 588.08" y="0">Drain Current, I</tspan><tspan x="611.42 647.82" y="32.71" font-size="50.40">DS</tspan><tspan x="679.43 702.77 730.74 791.41" y="0"> (A)</tspan></text>
<text transform="translate(725.60,1493.60) scale(1,1.0350)" font-size="83.40" xml:space="preserve"><tspan x="0.00 62.38 106.99 133.69 178.30 200.58 254.07 303.06 325.34 352.05 396.65 445.64 490.25 512.53 534.81" y="0">Gate Voltage, V</tspan><tspan x="588.30 624.66" y="33.84" font-size="51.71">GS</tspan><tspan x="655.83 678.12 704.82 758.32" y="0"> (V)</tspan></text>
<text transform="translate(469.80,186.60) scale(1,1.0750)" font-size="64.50" xml:space="preserve"><tspan x="0.00 38.12 55.45 93.57 128.27 162.98 180.31 216.75 234.09" y="0">Lines = I</tspan><tspan x="252.03 279.88" y="24.60" font-size="38.70">DS</tspan><tspan x="305.60 323.07 375.45 413.86 452.27 487.24 504.71 539.68" y="0"> Modeled</tspan></text>
<text transform="translate(468.60,281.90) scale(1,1.0750)" font-size="64.50" xml:space="preserve"><tspan x="0.00 41.62 76.32 131.81 169.92 208.04 225.38 260.08 277.42 313.86 331.20" y="0">Symbols = I</tspan><tspan x="349.43 377.28" y="24.60" font-size="38.70">DS</tspan><tspan x="403.00 420.56 462.70 480.25 536.43 575.02 592.57 627.71 648.75 683.89" y="0"> Simulated</tspan></text>
<text transform="translate(1588.00,196.50) scale(1,1.0750)" font-size="64.50" xml:space="preserve"><tspan x="0.00" y="0">V</tspan><tspan x="41.62 69.47" y="24.60" font-size="38.70">DS</tspan><tspan x="95.19 131.63 148.97 183.67 201.01" y="0">= 4 V</tspan></text>
<text transform="translate(1581.60,311.70) scale(1,1.0750)" font-size="64.50" xml:space="preserve"><tspan x="0.00" y="0">V</tspan><tspan x="41.62 69.47" y="24.60" font-size="38.70">DS</tspan><tspan x="95.19 131.63 148.97 183.67 201.01" y="0">= 3 V</tspan></text>
<text transform="translate(1581.60,524.80) scale(1,1.0750)" font-size="64.50" xml:space="preserve"><tspan x="0.00" y="0">V</tspan><tspan x="41.62 69.47" y="24.60" font-size="38.70">DS</tspan><tspan x="95.19 131.63 148.97 183.67 201.01" y="0">= 2 V</tspan></text>
<text transform="translate(1584.60,846.80) scale(1,1.0750)" font-size="64.50" xml:space="preserve" clip-path="url(#k2)"><tspan x="0.00" y="0">V</tspan><tspan x="41.62 69.47" y="24.60" font-size="38.70">DS</tspan><tspan x="95.19 131.63 149.74 183.67 201.01" y="0">= 1 V</tspan></text>
<text transform="translate(1517.60,1165.00) scale(1,1.0750)" font-size="64.50" xml:space="preserve" clip-path="url(#k3)"><tspan x="0.00" y="0">V</tspan><tspan x="41.62 69.47" y="24.60" font-size="38.70">DS</tspan><tspan x="95.19 131.63 148.97 183.67 201.78 235.71 253.05" y="0">= 0.1 V</tspan></text>
<defs><clipPath id="k0"><path clip-rule="evenodd" d="M-4000,-4000H4000V4000H-4000ZM-170.42,-7.99H-157.60V3.00H-170.42ZM-148.06,-7.99H-136.15V3.00H-148.06Z"/></clipPath><clipPath id="k1"><path clip-rule="evenodd" d="M-4000,-4000H4000V4000H-4000ZM-14.77,-7.99H-1.94V3.00H-14.77ZM7.60,-7.99H19.51V3.00H7.60Z"/></clipPath><clipPath id="k2"><path clip-rule="evenodd" d="M-4000,-4000H4000V4000H-4000ZM152.89,-7.48H164.80V3.00H152.89ZM173.65,-7.48H184.70V3.00H173.65Z"/></clipPath><clipPath id="k3"><path clip-rule="evenodd" d="M-4000,-4000H4000V4000H-4000ZM204.93,-7.48H216.84V3.00H204.93ZM225.69,-7.48H236.74V3.00H225.69Z"/></clipPath></defs>
</svg></body></html>
